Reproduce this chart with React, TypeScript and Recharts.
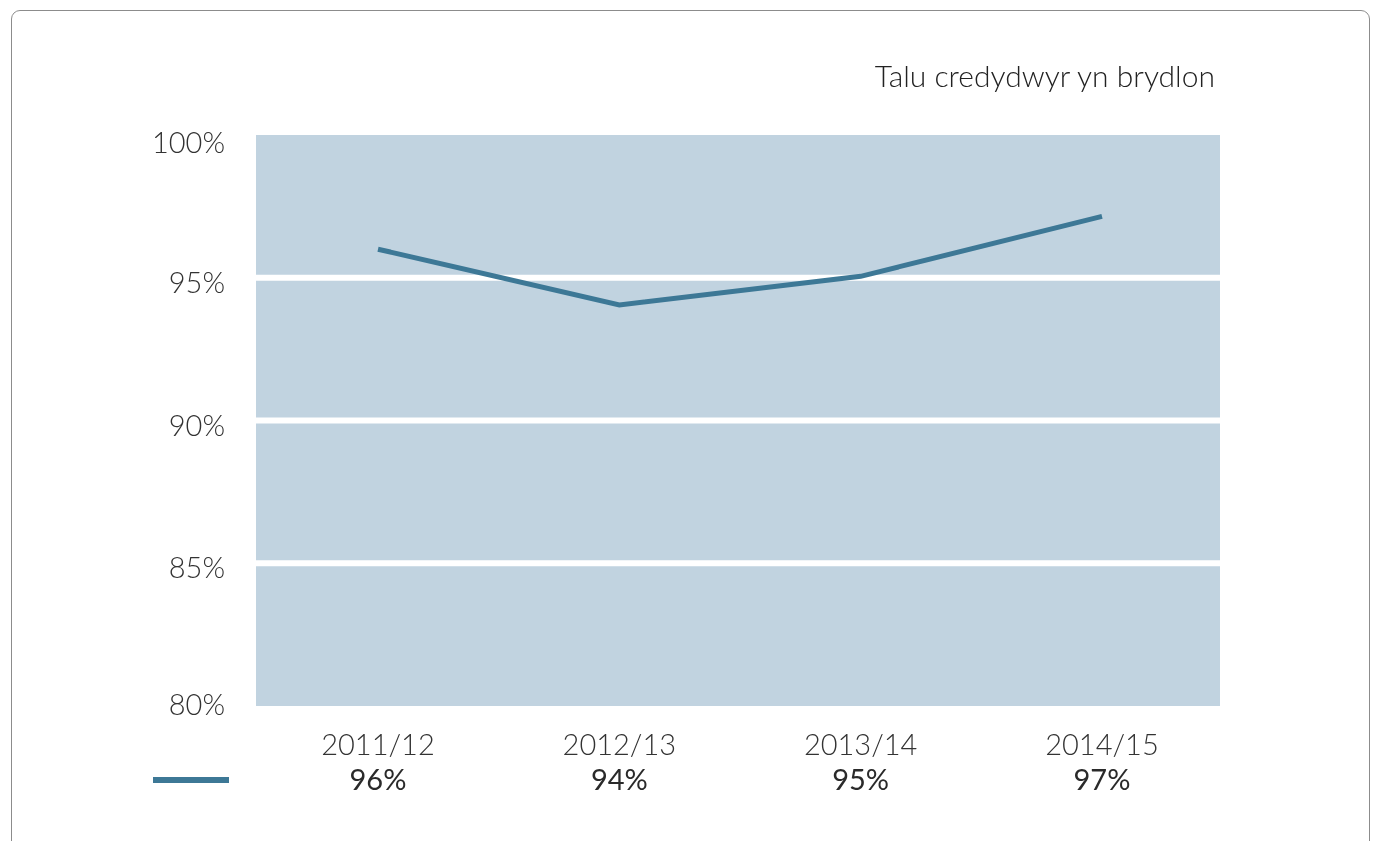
import React from "react";
import { LineChart, Line, XAxis, YAxis, CartesianGrid, ReferenceLine } from "recharts";

const categories = ["2011/12", "2012/13", "2013/14", "2014/15"];
const values = [96.0, 94.05, 95.05, 97.15];
const valueLabels = ["96%", "94%", "95%", "97%"];
const yTicks = [80, 85, 90, 95, 100];
const gridValues = [85, 90, 95];
const title = "Talu credydwyr yn brydlon";

const data = categories.map((c, i) => ({ name: c, value: values[i], label: valueLabels[i] }));

const FONT = "Lato, 'Noto Sans', sans-serif";
const LINE_COLOR = "#3d7896";
const PLOT_FILL = "#c1d3e0";

const XTick = (props: any) => {
  const { x, y, payload, index } = props;
  return (
    <g>
      <text x={x} y={y} dy={49} textAnchor="middle" fontSize={29} fontFamily={FONT} fontWeight={300} fill="#333">
        {payload.value}
      </text>
      <text x={x} y={y} dy={84} textAnchor="middle" fontSize={29} fontFamily={FONT} fontWeight={400} fill="#2a2a2a">
        {valueLabels[index]}
      </text>
    </g>
  );
};

const YTick = (props: any) => {
  const { x, y, payload } = props;
  const v = payload.value;
  const dy = v === 100 ? 18 : v === 80 ? 9 : 15;
  return (
    <text x={x} y={y} dy={dy} textAnchor="end" fontSize={29} fontFamily={FONT} fontWeight={300} fill="#333">
      {`${v}%`}
    </text>
  );
};

export default function App() {
  return (
    <div style={{ position: "relative", width: 1359, height: 825 }}>
      <div
        style={{
          position: "fixed",
          left: 11,
          top: 10,
          width: 1359,
          height: 900,
          border: "1.5px solid #8c8c8c",
          borderRadius: 9,
          boxSizing: "border-box",
          pointerEvents: "none",
        }}
      />
      <div
        style={{
          position: "absolute",
          right: 1359 - 1207,
          top: 48,
          fontFamily: FONT,
          fontSize: 30,
          fontWeight: 300,
          color: "#222",
          whiteSpace: "nowrap",
          lineHeight: "38px",
        }}
      >
        {title}
      </div>
      <div
        style={{
          position: "absolute",
          left: 145,
          top: 769,
          width: 76,
          height: 6,
          background: LINE_COLOR,
        }}
      />
      <div style={{ position: "absolute", left: 0, top: 0 }}>
        <LineChart width={1359} height={833} data={data} margin={{ top: 127, right: 147, left: 0, bottom: 75 }}>
          <CartesianGrid horizontal={false} vertical={false} fill={PLOT_FILL} fillOpacity={1} stroke="none" />
          {gridValues.map((v) => (
            <ReferenceLine key={v} y={v} stroke="#ffffff" strokeWidth={6} />
          ))}
          <XAxis
            dataKey="name"
            axisLine={false}
            tickLine={false}
            tickSize={0}
            tickMargin={0}
            height={60}
            padding={{ left: 122, right: 118 }}
            tick={<XTick />}
            interval={0}
          />
          <YAxis
            domain={[80, 100]}
            ticks={yTicks}
            width={248}
            axisLine={false}
            tickLine={false}
            tickSize={0}
            tickMargin={31}
            tick={<YTick />}
          />
          <Line
            type="linear"
            dataKey="value"
            stroke={LINE_COLOR}
            strokeWidth={5}
            dot={false}
            activeDot={false}
            isAnimationActive={false}
          />
        </LineChart>
      </div>
    </div>
  );
}
